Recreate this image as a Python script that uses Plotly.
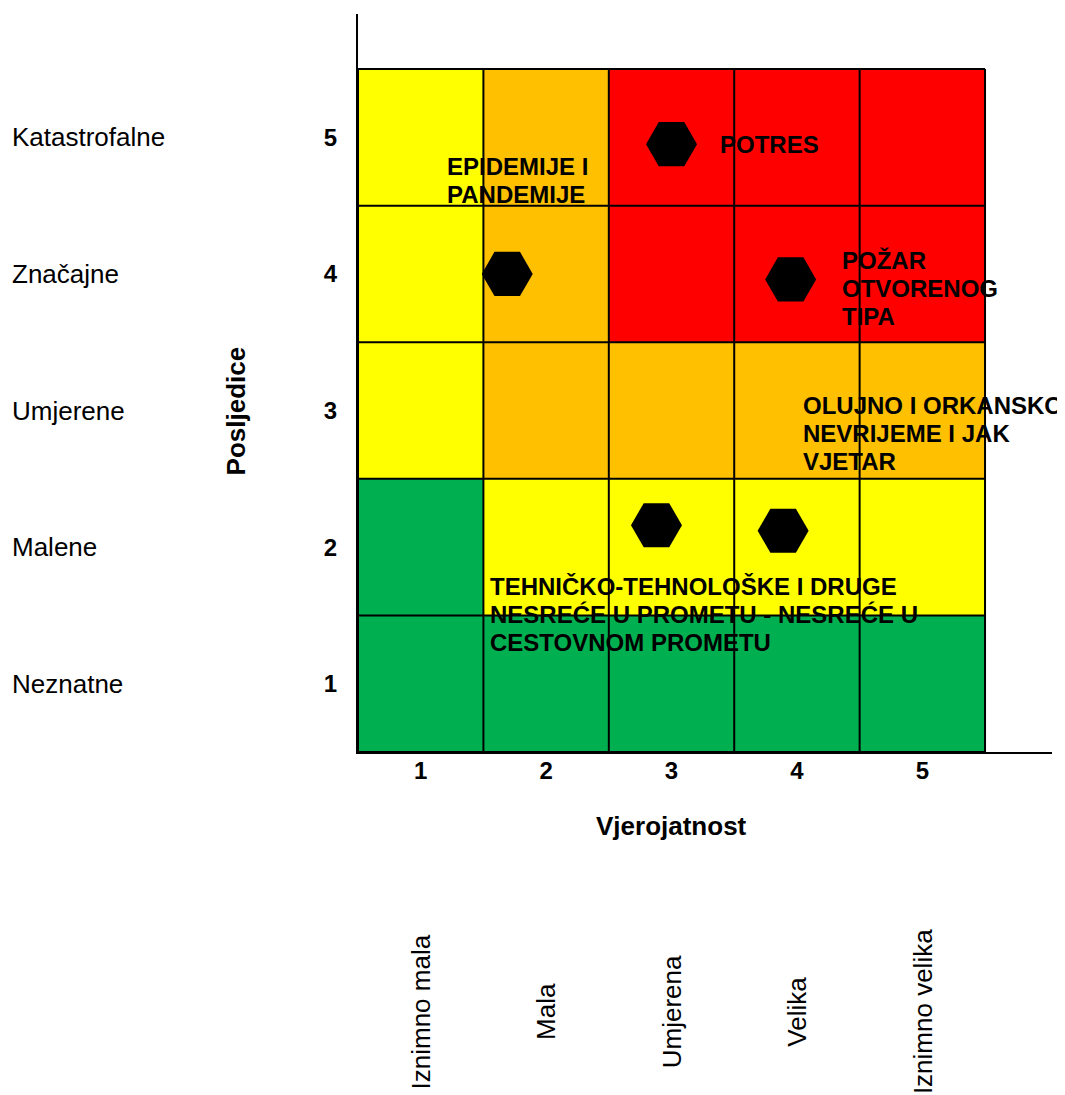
import plotly.graph_objects as go

# risk matrix: 0 = green, 1 = yellow, 2 = orange, 3 = red (rows = posljedice 1..5)
probability = [1, 2, 3, 4, 5]
consequence = [1, 2, 3, 4, 5]
risk_level = [
    [0, 0, 0, 0, 0],
    [0, 1, 1, 1, 1],
    [1, 2, 2, 2, 2],
    [1, 2, 3, 3, 3],
    [1, 2, 3, 3, 3],
]

prob_names = ["Iznimno mala", "Mala", "Umjerena", "Velika", "Iznimno velika"]
cons_names = ["Neznatne", "Malene", "Umjerene", "Značajne", "Katastrofalne"]

# hazard points (vjerojatnost, posljedice)
point_x = [3.0, 1.69, 3.95, 2.88, 3.89]
point_y = [4.95, 4.0, 3.96, 2.16, 2.12]

risk_labels = [
    ["EPIDEMIJE I", "PANDEMIJE"],
    ["POTRES"],
    ["POŽAR", "OTVORENOG", "TIPA"],
    ["OLUJNO I ORKANSKO", "NEVRIJEME I JAK", "VJETAR"],
    ["TEHNIČKO-TEHNOLOŠKE I DRUGE", "NESREĆE U PROMETU - NESREĆE U", "CESTOVNOM PROMETU"],
]
# where each label block starts (left edge, first line)
label_pos = [(1.19, 4.79), (3.367, 4.95), (4.34, 4.10), (4.03, 3.04), (1.533, 1.71)]

FONT = "Liberation Sans, Arial, sans-serif"
X_MAX = 6.034
Y_MAX = 5.903


def xp(v):
    return (v - 0.5) / (X_MAX - 0.5)


def yp(v):
    return (v - 0.5) / (Y_MAX - 0.5)


colors = ["#00B050", "#FFFF00", "#FFC000", "#FF0000"]
cscale = [
    [0.0, colors[0]], [1 / 6, colors[0]],
    [1 / 6, colors[1]], [0.5, colors[1]],
    [0.5, colors[2]], [5 / 6, colors[2]],
    [5 / 6, colors[3]], [1.0, colors[3]],
]

fig = go.Figure()
fig.add_trace(go.Heatmap(
    x=probability, y=consequence, z=risk_level,
    colorscale=cscale, zmin=0, zmax=3, showscale=False, hoverinfo="skip",
))
fig.add_trace(go.Scatter(
    x=point_x, y=point_y, mode="markers",
    marker=dict(symbol="hexagon2", size=51, color="black"),
    showlegend=False, hoverinfo="skip",
))

# grid lines
for i in range(6):
    v = 0.5 + i
    fig.add_shape(type="line", x0=v, x1=v, y0=0.5, y1=5.5, line=dict(color="black", width=2))
    fig.add_shape(type="line", x0=0.5, x1=5.5, y0=v, y1=v, line=dict(color="black", width=2))

for lines, (lx, ly) in zip(risk_labels, label_pos):
    for i, line in enumerate(lines):
        fig.add_annotation(
            x=lx, y=ly, text=line, showarrow=False, xanchor="left", yanchor="middle",
            yshift=-28 * i, font=dict(family=FONT, size=24, color="black", weight="bold"),
        )

for name, c in zip(cons_names, consequence):
    fig.add_annotation(x=-0.5015, y=yp(c), xref="paper", yref="paper", text=name,
                       showarrow=False, xanchor="left", yanchor="middle",
                       font=dict(family=FONT, size=26, color="black"))

for name, p in zip(prob_names, probability):
    fig.add_annotation(x=xp(p), y=-0.352, xref="paper", yref="paper", text=name,
                       showarrow=False, textangle=-90, xanchor="center", yanchor="middle",
                       font=dict(family=FONT, size=26, color="black"))

fig.add_annotation(x=xp(3), y=-0.100, xref="paper", yref="paper", text="Vjerojatnost",
                   showarrow=False, xanchor="center", yanchor="middle",
                   font=dict(family=FONT, size=26, color="black", weight="bold"))
fig.add_annotation(x=-0.176, y=yp(3), xref="paper", yref="paper", text="Posljedice",
                   showarrow=False, textangle=-90, xanchor="center", yanchor="middle",
                   font=dict(family=FONT, size=26, color="black", weight="bold"))

fig.update_xaxes(range=[0.5, X_MAX], tickvals=probability, showgrid=False, zeroline=False,
                 showline=True, linecolor="black", linewidth=2, ticks="",
                 ticklabelstandoff=-4,
                 tickfont=dict(family=FONT, size=24, color="black", weight="bold"))
fig.update_yaxes(range=[0.5, Y_MAX], tickvals=consequence, showgrid=False, zeroline=False,
                 showline=True, linecolor="black", linewidth=2, ticks="",
                 ticklabelstandoff=14,
                 tickfont=dict(family=FONT, size=24, color="black", weight="bold"))

fig.update_layout(
    width=1057, height=1087,
    margin=dict(l=350, r=13, t=6, b=343),
    plot_bgcolor="white", paper_bgcolor="white",
    font=dict(family=FONT),
)

fig.write_html("out.html")
